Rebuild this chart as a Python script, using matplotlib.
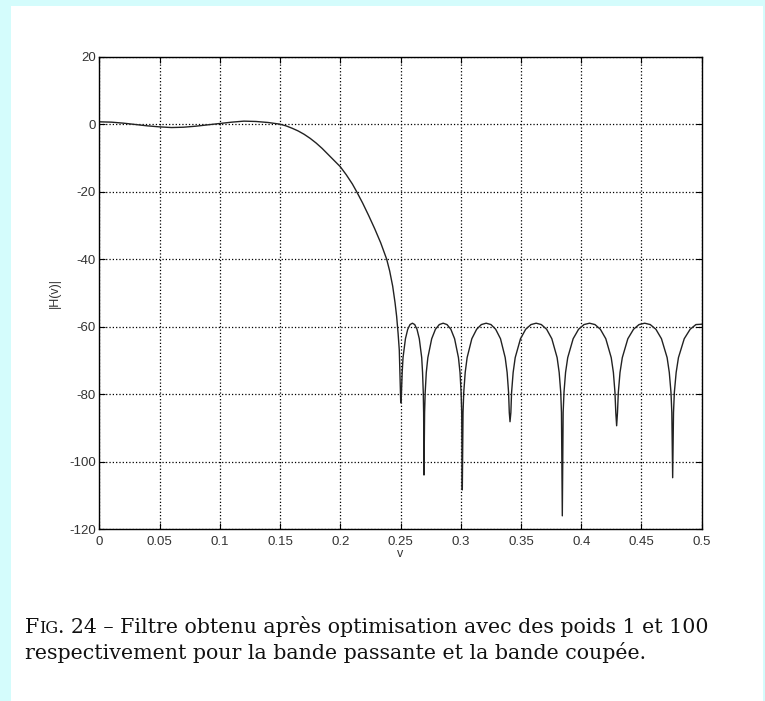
import numpy as np
import matplotlib
matplotlib.use("Agg")
import matplotlib.pyplot as plt
from matplotlib.patches import Rectangle

# frequence normalisee et gain (dB) releves sur la figure
# bande passante + transition
v_pass = [0.0, 0.01, 0.02, 0.03, 0.04, 0.05, 0.06, 0.07, 0.08, 0.09,
          0.10, 0.11, 0.12, 0.13, 0.14, 0.15, 0.155, 0.16, 0.165, 0.17,
          0.175, 0.18, 0.185, 0.19, 0.195, 0.20, 0.205, 0.21, 0.2136, 0.2186,
          0.2236, 0.2286, 0.2336, 0.2365, 0.2385, 0.2410, 0.2435, 0.2455, 0.2468,
          0.2480, 0.2490]
H_pass = [0.7, 0.6, 0.3, -0.1, -0.5, -0.8, -1.0, -0.9, -0.6, -0.2,
          0.2, 0.6, 0.9, 0.8, 0.5, 0.0, -0.5, -1.2, -2.0, -3.0,
          -4.2, -5.6, -7.2, -9.0, -10.8, -12.6, -15.0, -17.7, -20.0, -23.4,
          -27.1, -31.0, -35.2, -38.0, -40.0, -43.5, -48.0, -53.0, -57.0,
          -62.0, -67.0]
# bande coupee (lobes d'egale ondulation)
v_stop = [0.2502,
          0.2508, 0.2514, 0.2521, 0.2541, 0.2560, 0.2579, 0.2599, 0.2618, 0.2637,
          0.2656, 0.2676, 0.2683, 0.2689, 0.2692, 0.2695,
          0.2700, 0.2705, 0.2714, 0.2727, 0.2759, 0.2790, 0.2822, 0.2854, 0.2886,
          0.2918, 0.2949, 0.2981, 0.2994, 0.3003, 0.3008, 0.3013,
          0.3019, 0.3025, 0.3037, 0.3053, 0.3092, 0.3132, 0.3171, 0.3211, 0.3251,
          0.3290, 0.3330, 0.3369, 0.3385, 0.3397, 0.3403, 0.3409,
          0.3416, 0.3422, 0.3435, 0.3452, 0.3496, 0.3539, 0.3583, 0.3626, 0.3669,
          0.3713, 0.3756, 0.3800, 0.3817, 0.3830, 0.3836, 0.3843,
          0.3850, 0.3857, 0.3870, 0.3888, 0.3933, 0.3978, 0.4023, 0.4069, 0.4114,
          0.4159, 0.4204, 0.4249, 0.4267, 0.4280, 0.4287, 0.4294,
          0.4301, 0.4308, 0.4322, 0.4341, 0.4387, 0.4434, 0.4480, 0.4527, 0.4573,
          0.4620, 0.4666, 0.4713, 0.4731, 0.4745, 0.4752, 0.4759,
          0.4766, 0.4773, 0.4788, 0.4807, 0.4855, 0.4904, 0.4952, 0.5]
H_stop = [-82.6,
          -79.5, -73.6, -69.2, -63.6, -60.8, -59.4, -59.0, -59.4, -60.8,
          -63.6, -69.2, -73.6, -79.5, -85.5, -104.0,
          -85.5, -79.5, -73.6, -69.2, -63.6, -60.8, -59.4, -59.0, -59.4,
          -60.8, -63.6, -69.2, -73.6, -79.5, -85.5, -108.4,
          -85.5, -79.5, -73.6, -69.2, -63.6, -60.8, -59.4, -59.0, -59.4,
          -60.8, -63.6, -69.2, -73.6, -79.5, -85.5, -88.2,
          -85.5, -79.5, -73.6, -69.2, -63.6, -60.8, -59.4, -59.0, -59.4,
          -60.8, -63.6, -69.2, -73.6, -79.5, -85.5, -116.1,
          -85.5, -79.5, -73.6, -69.2, -63.6, -60.8, -59.4, -59.0, -59.4,
          -60.8, -63.6, -69.2, -73.6, -79.5, -85.5, -89.4,
          -85.5, -79.5, -73.6, -69.2, -63.6, -60.8, -59.4, -59.0, -59.4,
          -60.8, -63.6, -69.2, -73.6, -79.5, -85.5, -104.8,
          -85.5, -79.5, -73.6, -69.2, -63.6, -60.8, -59.4, -59.3]

xticks = [0, 0.05, 0.1, 0.15, 0.2, 0.25, 0.3, 0.35, 0.4, 0.45, 0.5]
xlabels = ["0", "0.05", "0.1", "0.15", "0.2", "0.25", "0.3", "0.35", "0.4", "0.45", "0.5"]
yticks = [20, 0, -20, -40, -60, -80, -100, -120]

v = v_pass + v_stop
H = H_pass + H_stop

plt.rcParams['axes.unicode_minus'] = False
W, Hpx = 765, 701
fig = plt.figure(figsize=(W / 100, Hpx / 100), dpi=100)
fig.patch.set_facecolor('#d4fcfc')
# panneau blanc
fig.patches.append(Rectangle((11 / W, 0), (763 - 11) / W, 1 - 6 / Hpx,
                             transform=fig.transFigure, facecolor='white',
                             edgecolor='none', zorder=-10))

ax = fig.add_axes([99.3 / W, 1 - 529 / Hpx, (701.7 - 99.3) / W, (529 - 56.7) / Hpx])
ax.set_zorder(5)
ax.plot(v, H, color='#222222', lw=1.0)
ax.set_xlim(0, 0.5)
ax.set_ylim(-120, 20)
ax.set_xticks(xticks)
ax.set_xticklabels(xlabels)
ax.set_yticks(yticks)
ax.grid(True, color='black', linestyle=':', linewidth=0.9)
ax.tick_params(direction='in', top=True, right=True, length=4, width=0.8,
               labelsize=9.5, labelcolor='#333333')
ax.tick_params(axis='x', pad=5)
ax.tick_params(axis='y', pad=2.5)
for lab in ax.get_xticklabels() + ax.get_yticklabels():
    lab.set_family('Liberation Sans')
for s in ax.spines.values():
    s.set_linewidth(1.0)
ax.set_xlabel('v', fontsize=9, family='Liberation Sans', color='#333333', labelpad=0)
ax.set_ylabel('|H(v)|', fontsize=9, family='Liberation Sans', color='#333333', labelpad=6)

# legende (petites capitales pour FIG.)
r = fig.canvas.get_renderer()
x0 = 25 / W
y1 = 1 - 633 / Hpx
y2 = 1 - 659 / Hpx
serif = 'DejaVu Serif'
parts = [("F", 14.8), ("IG", 11.5), (". 24 \u2013 Filtre obtenu apr\u00e8s optimisation avec des poids 1 et 100", 14.8)]
x = x0
for txt, sz in parts:
    t = fig.text(x, y1, txt, fontsize=sz, family=serif, va='baseline', ha='left', color='#111111')
    bb = t.get_window_extent(renderer=r)
    x = x + bb.width / W
fig.text(x0, y2, "respectivement pour la bande passante et la bande coup\u00e9e.",
         fontsize=14.8, family=serif, va='baseline', ha='left', color='#111111')

fig.savefig('out.png', dpi=100, facecolor=fig.get_facecolor())
